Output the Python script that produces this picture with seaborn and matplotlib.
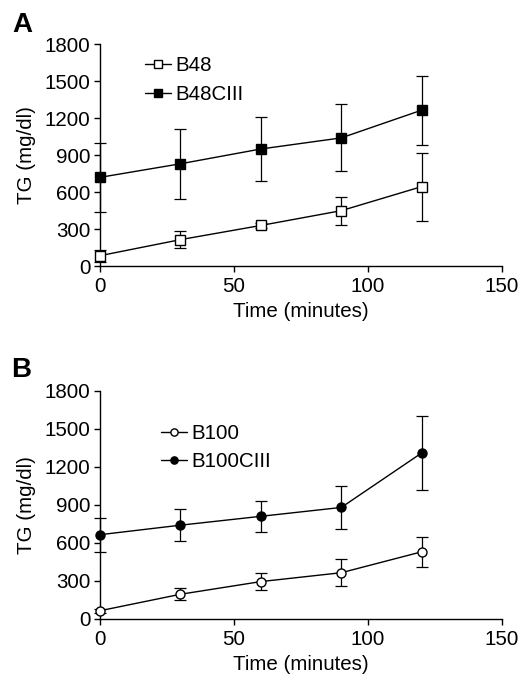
"""
TG over time, two panels
"""

import matplotlib.pyplot as plt
import pandas as pd
import seaborn as sns

# data
time = [0, 30, 60, 90, 120]

b48 = [85, 215, 330, 450, 645]
b48Err = [50, 70, 20, 114, 275]
b48c3 = [720, 830, 950, 1040, 1265]
b48c3Err = [280, 286, 259, 272, 279]

b100 = [65, 195, 295, 365, 530]
b100Err = [15, 48, 70, 106, 118]
b100c3 = [665, 740, 810, 880, 1310]
b100c3Err = [135, 124, 120, 173, 290]

yTicks = [0, 300, 600, 900, 1200, 1500, 1800]
xTicks = [0, 50, 100, 150]

# style
sns.set_style("ticks")
plt.rcParams["font.family"] = ["Liberation Sans", "DejaVu Sans"]
plt.rcParams["font.size"] = 14.8
for key in ("text.color", "axes.labelcolor", "axes.edgecolor",
            "xtick.color", "ytick.color"):
    plt.rcParams[key] = "black"
plt.rcParams["xtick.major.size"] = 4
plt.rcParams["ytick.major.size"] = 4
plt.rcParams["xtick.major.width"] = 1
plt.rcParams["ytick.major.width"] = 1
plt.rcParams["axes.linewidth"] = 1
plt.rcParams["xtick.major.pad"] = 4
plt.rcParams["ytick.major.pad"] = 3

fig = plt.figure(figsize=(5.25, 6.79), dpi=100)
axA = fig.add_axes([0.1905, 0.608, 0.766, 0.327])
axB = fig.add_axes([0.1905, 0.0884, 0.766, 0.336])


def draw(ax, series, marker, anchor):
    for name, mean, err, face in series:
        df = pd.DataFrame({"time": time, "TG": mean})
        ax.errorbar(time, mean, yerr=err, fmt="none", ecolor="black",
                    elinewidth=0.9, capsize=4, capthick=0.9, clip_on=False,
                    zorder=2)
        sns.lineplot(data=df, x="time", y="TG", ax=ax, color="black",
                     linewidth=1, marker=marker, markersize=6.5,
                     markerfacecolor=face, markeredgecolor="black",
                     markeredgewidth=1, label=name, clip_on=False, zorder=3)
    ax.set_xlim(0, 150)
    ax.set_ylim(0, 1800)
    ax.set_xticks(xTicks)
    ax.set_yticks(yTicks)
    ax.set_xlabel("Time (minutes)")
    ax.set_ylabel("TG (mg/dl)", labelpad=6)
    sns.despine(ax=ax)
    ax.legend(loc="upper left", bbox_to_anchor=anchor, frameon=False,
              handlelength=1.3, handletextpad=0.2, labelspacing=0.45,
              borderaxespad=0.2, markerscale=0.8)


draw(axA, [("B48", b48, b48Err, "white"),
           ("B48CIII", b48c3, b48c3Err, "black")], "s", (0.08, 1.0))
draw(axB, [("B100", b100, b100Err, "white"),
           ("B100CIII", b100c3, b100c3Err, "black")], "o", (0.12, 0.91))

fig.text(0.024, 0.953, "A", fontsize=20, fontweight="bold")
fig.text(0.022, 0.445, "B", fontsize=20, fontweight="bold")

fig.savefig("out.png", dpi=100)
